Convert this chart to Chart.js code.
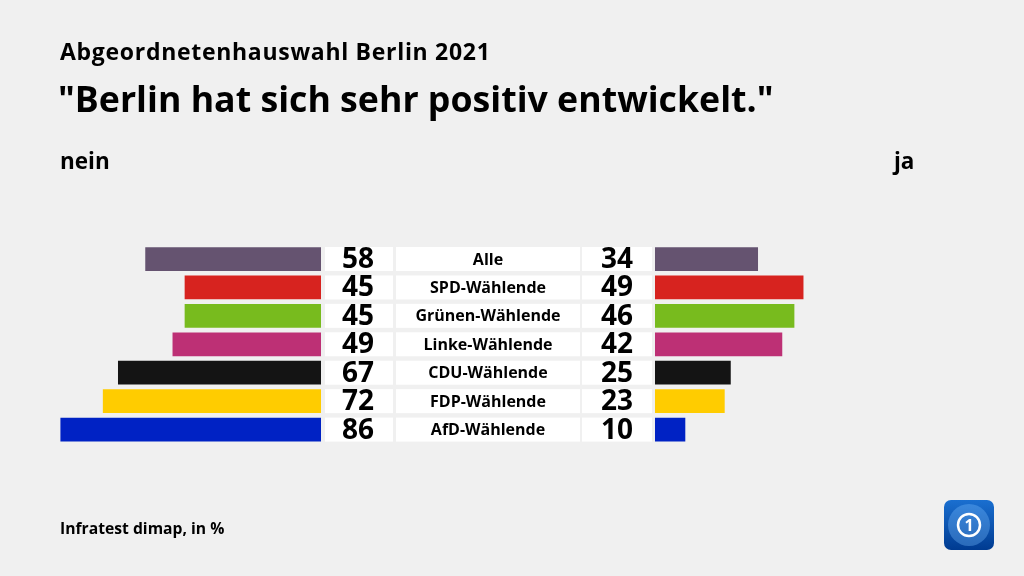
<!DOCTYPE html>
<html>
<head>
<meta charset="utf-8">
<script src="https://cdn.jsdelivr.net/npm/chart.js@4/dist/chart.umd.min.js"></script>
<style>
  html, body { margin: 0; padding: 0; background: #f0f0f0; }
  #wrap { position: relative; width: 1024px; height: 576px; overflow: hidden; font-family: "Open Sans", sans-serif; color: #000; }
  #chart { position: absolute; left: 0; top: 0; }
  .txt { position: absolute; font-weight: bold; white-space: nowrap; }
</style>
</head>
<body>
<div id="wrap">
  <canvas id="chart" width="1024" height="576"></canvas>
  <div class="txt" style="left:60px; top:35px; font-size:23px; letter-spacing:0.7px;">Abgeordnetenhauswahl Berlin 2021</div>
  <div class="txt" style="left:58px; top:74px; font-size:35.7px;">"Berlin hat sich sehr positiv entwickelt."</div>
  <div class="txt" style="left:60px; top:145px; font-size:22.5px;">nein</div>
  <div class="txt" style="left:894px; top:145px; font-size:22.5px;">ja</div>
  <div class="txt" style="left:60px; top:517px; font-size:15.7px;">Infratest dimap, in %</div>
</div>
<script>
// groups and answers
const groups = ['Alle', 'SPD-Wählende', 'Grünen-Wählende', 'Linke-Wählende', 'CDU-Wählende', 'FDP-Wählende', 'AfD-Wählende'];
const nein = [58, 45, 45, 49, 67, 72, 86];
const ja = [34, 49, 46, 42, 25, 23, 10];
const colors = ['#655370', '#d7231f', '#78bb1e', '#bd3075', '#141414', '#ffcc00', '#0022c4'];

const W = 1024;
const pxPerUnit = 3.03;
const zeroLeft = 321;   // where the "nein" bars start
const zeroRight = 655;  // where the "ja" bars start

// white boxes and the numbers between the two halves
const middlePlugin = {
    id: 'middle',
    afterDatasetsDraw(chart) {
        const ctx = chart.ctx;
        const y = chart.scales.y;
        const half = 12;
        ctx.save();
        groups.forEach((g, i) => {
            const cy = y.getPixelForValue(i);
            ctx.fillStyle = '#ffffff';
            ctx.fillRect(325, cy - half, 68, half * 2);
            ctx.fillRect(396, cy - half, 184, half * 2);
            ctx.fillRect(582, cy - half, 70, half * 2);

            ctx.fillStyle = '#000';
            ctx.textBaseline = 'middle';
            ctx.textAlign = 'center';
            ctx.font = 'bold 28px "Open Sans"';
            ctx.fillText(String(nein[i]), 358, cy + 1);
            ctx.fillText(String(ja[i]), 617, cy + 1);
            ctx.font = 'bold 16px "Open Sans"';
            ctx.fillText(g, 488, cy + 1);
        });

        // logo
        const lx = 944, ly = 500, s = 50, r = 7;
        const grad = ctx.createLinearGradient(lx, ly, lx, ly + s);
        grad.addColorStop(0, '#1a6fd0');
        grad.addColorStop(1, '#003b91');
        ctx.fillStyle = grad;
        ctx.beginPath();
        ctx.roundRect(lx, ly, s, s, r);
        ctx.fill();
        ctx.fillStyle = 'rgba(120,190,255,0.35)';
        ctx.beginPath();
        ctx.arc(lx + 25, ly + 25, 21, 0, Math.PI * 2);
        ctx.fill();
        ctx.strokeStyle = '#ffffff';
        ctx.lineWidth = 2.5;
        ctx.beginPath();
        ctx.arc(lx + 25, ly + 25, 11, 0, Math.PI * 2);
        ctx.stroke();
        ctx.fillStyle = '#ffffff';
        ctx.font = 'bold 16px "Open Sans"';
        ctx.fillText('1', lx + 25, ly + 26);
        ctx.restore();
    }
};

new Chart(document.querySelector('#chart').getContext('2d'), {
    type: 'bar',
    data: {
        labels: groups,
        datasets: [
            {
                label: 'nein',
                data: nein,
                xAxisID: 'xl',
                backgroundColor: colors,
                grouped: false,
                barPercentage: 0.835,
                categoryPercentage: 1
            },
            {
                label: 'ja',
                data: ja,
                xAxisID: 'xr',
                backgroundColor: colors,
                grouped: false,
                barPercentage: 0.835,
                categoryPercentage: 1
            }
        ]
    },
    options: {
        indexAxis: 'y',
        responsive: false,
        animation: false,
        devicePixelRatio: 1,
        layout: { padding: { left: 0, right: 0, top: 244.8, bottom: 576 - 443.8 } },
        plugins: { legend: { display: false }, tooltip: { enabled: false } },
        scales: {
            y: { display: false, offset: true },
            xl: {
                display: false,
                reverse: true,
                min: -(W - zeroLeft) / pxPerUnit,
                max: zeroLeft / pxPerUnit
            },
            xr: {
                display: false,
                min: -zeroRight / pxPerUnit,
                max: (W - zeroRight) / pxPerUnit
            }
        }
    },
    plugins: [middlePlugin]
});
</script>
</body>
</html>
